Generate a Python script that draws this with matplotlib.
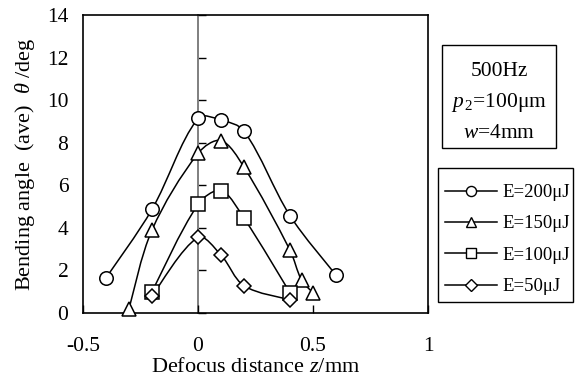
import matplotlib
matplotlib.use("Agg")
import matplotlib.pyplot as plt
from matplotlib.path import Path
from matplotlib.patches import PathPatch, Rectangle
from matplotlib.lines import Line2D
import numpy as np

plt.rcParams['font.family'] = ['Liberation Serif', 'DejaVu Serif']
plt.rcParams['mathtext.fontset'] = 'custom'
plt.rcParams['mathtext.rm'] = 'Liberation Serif'
plt.rcParams['mathtext.it'] = 'Liberation Serif:italic'

# ---- data ----
x200 = [-0.4, -0.2, 0.0, 0.1, 0.2, 0.4, 0.6]
y200 = [1.65, 4.87, 9.15, 9.07, 8.55, 4.57, 1.78]
x150 = [-0.3, -0.2, 0.0, 0.1, 0.2, 0.4, 0.45, 0.5]
y150 = [0.2, 3.9, 7.5, 8.1, 6.85, 2.95, 1.55, 0.95]
x100 = [-0.2, 0.0, 0.1, 0.2, 0.4]
y100 = [1.0, 5.1, 5.75, 4.45, 0.95]
x50 = [-0.2, 0.0, 0.1, 0.2, 0.4]
y50 = [0.8, 3.55, 2.72, 1.28, 0.62]
labels = ['E=200μJ', 'E=150μJ', 'E=100μJ', 'E=50μJ']
markers = ['o', '^', 's', 'D']
msizes = [9.7, 10.5, 9.8, 7.6]
xticks = [-0.5, 0, 0.5, 1]
xticklabels = ['-0.5', '0', '0.5', '1']
yticks = [0, 2, 4, 6, 8, 10, 12, 14]

FS_TICK = 15.5
FS_LAB = 16
FS_LEG = 13.5
FS_BOX = 15.5
W, H = 578, 378
fig = plt.figure(figsize=(W / 100, H / 100), dpi=100)
ax = fig.add_axes([83 / W, 1 - 313 / H, (428 - 83) / W, (313 - 15) / H])
XMIN, XMAX, YMIN, YMAX = -0.5, 1, 0, 14
ax.set_xlim(XMIN, XMAX)
ax.set_ylim(YMIN, YMAX)

# pixel scale of the axes, used so that smoothing behaves as on screen
SX = (428 - 83) / (XMAX - XMIN)
SY = (313 - 15) / (YMAX - YMIN)


def smooth_path(xs, ys):
    sc = np.array([SX, SY])
    pts = np.column_stack([xs, ys]).astype(float) * sc
    n = len(pts)
    seg = np.linalg.norm(np.diff(pts, axis=0), axis=1)
    tang = []
    for i in range(n):
        if i == 0:
            tang.append((pts[1] - pts[0]))
        elif i == n - 1:
            tang.append((pts[-1] - pts[-2]))
        else:
            tang.append(pts[i + 1] - pts[i - 1])
    verts = [pts[0]]
    codes = [Path.MOVETO]
    for i in range(n - 1):
        L = seg[i]
        if i == 0:
            f1 = 1.0 / 3.0 * 0.5
        else:
            f1 = L / (seg[i - 1] + L) / 3.0
        if i + 1 == n - 1:
            f2 = 1.0 / 3.0 * 0.5
        else:
            f2 = L / (seg[i + 1] + L) / 3.0
        c1 = pts[i] + tang[i] * f1
        c2 = pts[i + 1] - tang[i + 1] * f2
        verts += [c1, c2, pts[i + 1]]
        codes += [Path.CURVE4] * 3
    verts = np.array(verts) / sc
    return Path(verts, codes)


series = [(x200, y200), (x150, y150), (x100, y100), (x50, y50)]
handles = []
for (xs, ys), m, ms, lab in zip(series, markers, msizes, labels):
    patch = PathPatch(smooth_path(xs, ys), facecolor='none', edgecolor='black',
                      lw=1.1, zorder=3)
    ax.add_patch(patch)
    ax.plot(xs, ys, linestyle='none', marker=m, ms=ms, mfc='white', mec='black',
            mew=1.1, zorder=4, clip_on=False)
    handles.append(Line2D([], [], color='black', lw=1.1, marker=m, ms=ms * 0.75,
                          mfc='white', mec='black', mew=1.0))

# frame
for s in ax.spines.values():
    s.set_linewidth(1.2)
    s.set_color('black')

ax.set_xticks(xticks)
ax.set_xticklabels(xticklabels)
ax.set_yticks(yticks)
ax.tick_params(axis='x', direction='in', length=6, width=1.0, pad=17.5,
               labelsize=FS_TICK)
ax.tick_params(axis='y', length=0, pad=10.5, labelsize=FS_TICK)

# value axis crossing at x=0
sec = ax.secondary_yaxis(1 / 3)
sec.set_yticks(yticks)
sec.tick_params(axis='y', direction='in', length=6, width=1.0, labelleft=False,
                color='black')
sec.spines['left'].set_color('#7f7f7f')
sec.spines['left'].set_linewidth(1.4)

ax.set_xlabel('Defocus distance $z$/mm', fontsize=FS_LAB, labelpad=1)
ax.set_ylabel('Bending angle  (ave)  $\\theta$ /deg', fontsize=FS_LAB, labelpad=7)

# legend (frame drawn separately)
fig.patches.append(Rectangle((438 / W, 1 - 302 / H), (573 - 438) / W, (302 - 168) / H,
                             transform=fig.transFigure, facecolor='white',
                             edgecolor='black', lw=1.0, zorder=0))
leg = fig.legend(handles, labels, loc='upper left',
                 bbox_to_anchor=(445 / W, 1 - 184 / H), bbox_transform=fig.transFigure,
                 fontsize=FS_LEG, frameon=False, borderpad=0, handlelength=2.77,
                 handletextpad=0.32, labelspacing=0.76, borderaxespad=0)

# condition box
fig.patches.append(Rectangle((442 / W, 1 - 148 / H), (556 - 442) / W, (148 - 45) / H,
                             transform=fig.transFigure, facecolor='white',
                             edgecolor='black', lw=1.0))
cx = 499 / W
fig.text(cx, 1 - 72 / H, '500Hz', ha='center', va='center', fontsize=FS_BOX)
fig.text(cx, 1 - 103 / H, '$p_{\\,2}$=100μm', ha='center', va='center', fontsize=FS_BOX)
fig.text(cx, 1 - 133 / H, '$w$=4mm', ha='center', va='center', fontsize=FS_BOX)

fig.savefig('out.png', dpi=100)
